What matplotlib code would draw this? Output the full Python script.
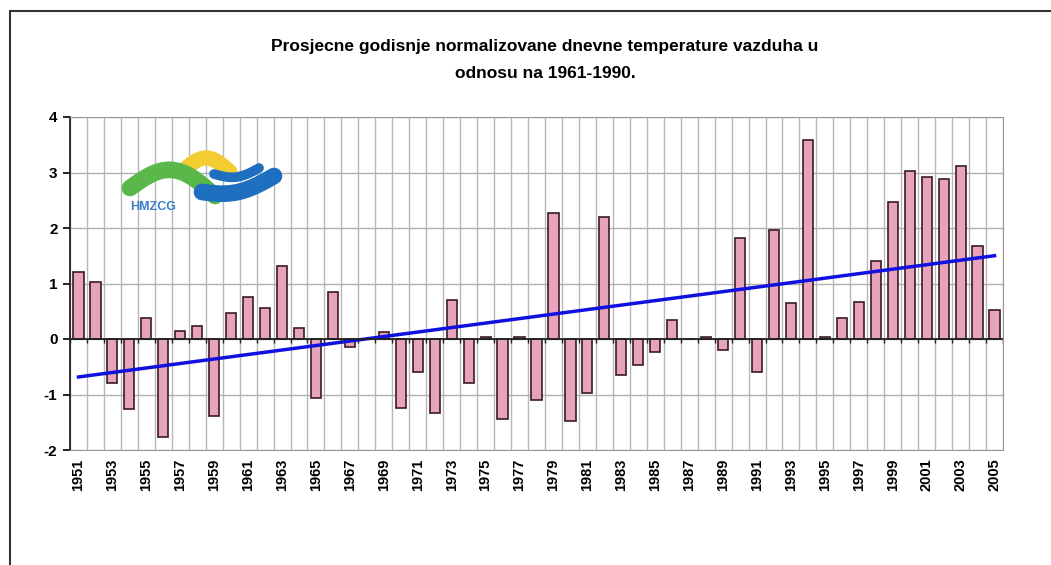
import numpy as np
import matplotlib.pyplot as plt
from matplotlib.patches import Rectangle

years = list(range(1951, 2006))
anomaly = [1.21, 1.02, -0.80, -1.26, 0.38, -1.76, 0.15, 0.24, -1.39, 0.47,
           0.75, 0.56, 1.31, 0.20, -1.06, 0.85, -0.14, 0.0, 0.13, -1.24,
           -0.60, -1.34, 0.70, -0.79, 0.03, -1.44, 0.04, -1.10, 2.27, -1.48,
           -0.98, 2.20, -0.65, -0.46, -0.23, 0.34, 0.0, 0.03, -0.20, 1.82,
           -0.60, 1.96, 0.65, 3.58, 0.03, 0.38, 0.66, 1.40, 2.46, 3.02,
           2.92, 2.89, 3.12, 1.68, 0.53]
tick_years = years[::2]
title = ('Prosjecne godisnje normalizovane dnevne temperature vazduha u\n'
         'odnosu na 1961-1990.')

plt.rcParams['font.family'] = ['Liberation Sans', 'DejaVu Sans']

fig = plt.figure(figsize=(10.51, 5.65), dpi=100)
W, H = 1051, 565
ax = fig.add_axes([70 / W, 1 - 450 / H, 933 / W, 333 / H])

x = np.arange(len(years))
ax.bar(x, anomaly, width=0.6, color='#e7a3bb', edgecolor='#3a1a24',
       linewidth=1.2, zorder=3)

# linear trend
k, b = np.polyfit(x, anomaly, 1)
ax.plot(x, k * x + b, color='#1010e0', linewidth=2.5, zorder=4)

ax.set_xlim(-0.5, len(years) - 0.5)
ax.set_ylim(-2, 4)
ax.set_yticks(range(-2, 5))
ax.set_yticklabels([str(v) for v in range(-2, 5)], fontsize=11, fontweight='bold')
ax.set_xticks([years.index(y) for y in tick_years])
ax.set_xticklabels([str(y) for y in tick_years], rotation=90, fontsize=10.5,
                   fontweight='bold')
ax.set_xticks(np.arange(-0.5, len(years)), minor=True)
ax.tick_params(axis='x', which='both', length=0, pad=6)
ax.tick_params(axis='y', length=5, width=1.2, direction='out', pad=4)
ax.grid(axis='y', color='#b0b0b0', linewidth=1, zorder=0)
ax.grid(axis='x', which='minor', color='#b8b8b8', linewidth=1, zorder=0)
ax.axhline(0, color='#222222', linewidth=1.3, zorder=5)
ax.vlines(np.arange(-0.5, len(years)), -0.08, 0, color='#222222',
          linewidth=1, zorder=5)
for s in ['top', 'right', 'bottom']:
    ax.spines[s].set_color('#999999')
ax.spines['left'].set_color('#222222')
ax.spines['left'].set_linewidth(1.3)

fig.text(545 / W, 1 - 60 / H, title, ha='center', va='center', fontsize=12.5,
         fontweight='bold', linespacing=2.0)

# outer chart frame
fig.patches.append(Rectangle((10 / W, -0.1), 1.2, 1 - 11 / H + 0.1,
                             transform=fig.transFigure, fill=False,
                             edgecolor='#333333', linewidth=1.5))

# logo HMZCG
lg = fig.add_axes([120 / W, 1 - 218 / H, 165 / W, 68 / H])
lg.set_xlim(0, 165)
lg.set_ylim(68, 0)
lg.axis('off')
t = np.linspace(0, 1, 60)
lg.plot(62 + 48 * t, 22 - 14 * np.sin(np.pi * t), color='#f2cc30',
        linewidth=11, solid_capstyle='round')
lg.plot(10 + 85 * t, 38 - 22 * np.sin(np.pi * t) + 8 * t, color='#5ab84a',
        linewidth=12, solid_capstyle='round')
lg.plot(82 + 72 * t, 42 + 8 * np.sin(np.pi * t) - 16 * t, color='#1e6fc0',
        linewidth=12, solid_capstyle='round')
lg.plot(94 + 45 * t, 24 + 6 * np.sin(np.pi * t) - 6 * t, color='#1e6fc0',
        linewidth=7, solid_capstyle='round')
lg.text(10, 57, 'HMZCG', color='#3a7fc8', fontsize=9, fontweight='bold',
        va='center')

fig.savefig('out.png', dpi=100)
